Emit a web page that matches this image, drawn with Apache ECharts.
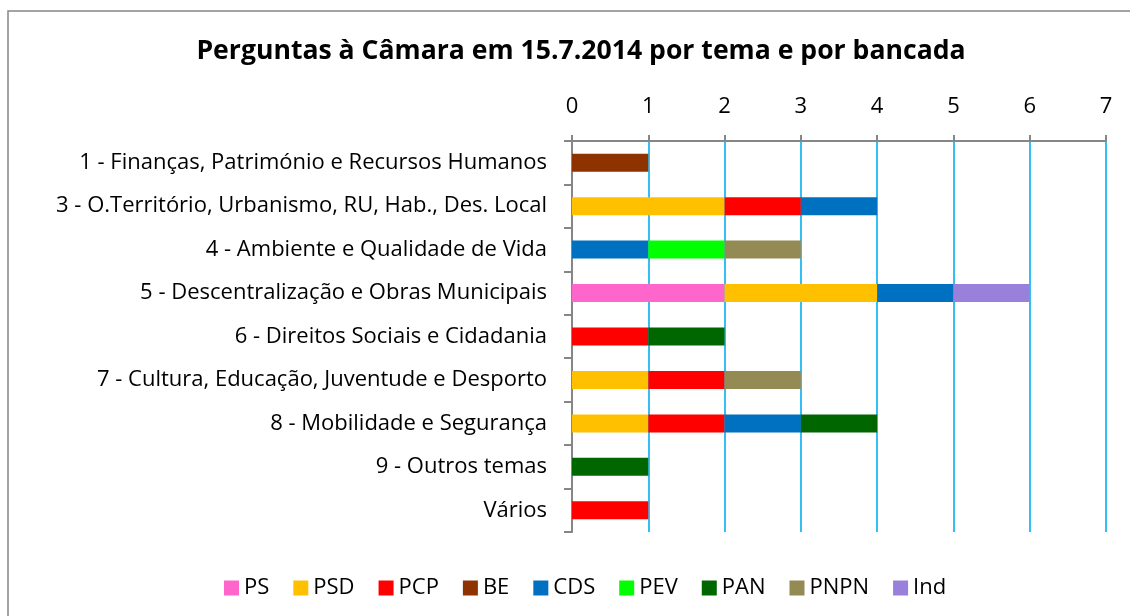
<!DOCTYPE html>
<html>
<head>
<meta charset="utf-8">
<script src="https://cdn.jsdelivr.net/npm/echarts@6/dist/echarts.min.js"></script>
<style>
  html, body { margin: 0; padding: 0; background: #fff; }
  #chart { width: 1130px; height: 616px; }
</style>
</head>
<body>
<div id="chart"></div>
<script>
// categorias (temas), de cima para baixo
const temas = [
  '1 - Finanças, Património e Recursos Humanos',
  '3 - O.Território, Urbanismo, RU, Hab., Des. Local',
  '4 - Ambiente e Qualidade de Vida',
  '5 - Descentralização e Obras Municipais',
  '6 - Direitos Sociais e Cidadania',
  '7 - Cultura, Educação, Juventude e Desporto',
  '8 - Mobilidade e Segurança',
  '9 - Outros temas',
  'Vários'
];

// perguntas por bancada (mesma ordem dos temas)
const PS   = [0, 0, 0, 2, 0, 0, 0, 0, 0];
const PSD  = [0, 2, 0, 2, 0, 1, 1, 0, 0];
const PCP  = [0, 1, 0, 0, 1, 1, 1, 0, 1];
const BE   = [1, 0, 0, 0, 0, 0, 0, 0, 0];
const CDS  = [0, 1, 1, 1, 0, 0, 1, 0, 0];
const PEV  = [0, 0, 1, 0, 0, 0, 0, 0, 0];
const PAN  = [0, 0, 0, 0, 1, 0, 1, 1, 0];
const PNPN = [0, 0, 1, 0, 0, 1, 0, 0, 0];
const Ind  = [0, 0, 0, 1, 0, 0, 0, 0, 0];

const bancadas = ['PS', 'PSD', 'PCP', 'BE', 'CDS', 'PEV', 'PAN', 'PNPN', 'Ind'];
const valores = [PS, PSD, PCP, BE, CDS, PEV, PAN, PNPN, Ind];
const cores = ['#FF66CC', '#FFC000', '#FF0000', '#8E3200', '#0070C0', '#00FF00', '#006600', '#948A54', '#9980DA'];

const fonte = '"Open Sans", Lato, sans-serif';

const chart = echarts.init(document.getElementById('chart'));

//montar series
const series = bancadas.map(function (nome, i) {
  return {
    name: nome,
    type: 'bar',
    stack: 'total',
    barWidth: 18,
    itemStyle: { color: cores[i] },
    // zeros ficam de fora para não desenhar barras vazias
    data: valores[i].map(function (v) { return v === 0 ? null : v; })
  };
});

chart.setOption({
  animation: false,
  textStyle: { fontFamily: fonte },
  title: {
    text: 'Perguntas à Câmara em 15.7.2014 por tema e por bancada',
    left: 576,
    textAlign: 'center',
    top: 33,
    textStyle: { fontSize: 26.6, fontWeight: 'bold', color: '#000', fontFamily: fonte }
  },
  graphic: [{
    type: 'rect',
    shape: { x: 8, y: 11, width: 1200, height: 700 },
    style: { fill: 'none', stroke: '#868686', lineWidth: 1.5 },
    silent: true
  }],
  legend: {
    bottom: 12,
    left: 219,
    itemWidth: 15,
    itemHeight: 15,
    itemGap: 24,
    icon: 'rect',
    textStyle: { fontSize: 22, color: '#000', fontFamily: fonte },
    data: bancadas
  },
  grid: {
    left: 572,
    right: 24,
    top: 141,
    height: 391
  },
  xAxis: {
    type: 'value',
    position: 'top',
    min: 0,
    max: 7,
    interval: 1,
    axisLine: { show: true, lineStyle: { color: '#868686', width: 2 } },
    axisTick: { show: true, length: 6, lineStyle: { color: '#868686', width: 2 } },
    axisLabel: { fontSize: 22, color: '#000', margin: 23 },
    splitLine: { show: true, lineStyle: { color: '#00B0F0', width: 1.6 } }
  },
  yAxis: {
    type: 'category',
    inverse: true,
    data: temas,
    axisLine: { show: true, lineStyle: { color: '#868686', width: 2 } },
    axisTick: { show: true, length: 8, lineStyle: { color: '#868686', width: 2 } },
    axisLabel: { fontSize: 22, color: '#000', margin: 25 }
  },
  series: series
});
</script>
</body>
</html>
